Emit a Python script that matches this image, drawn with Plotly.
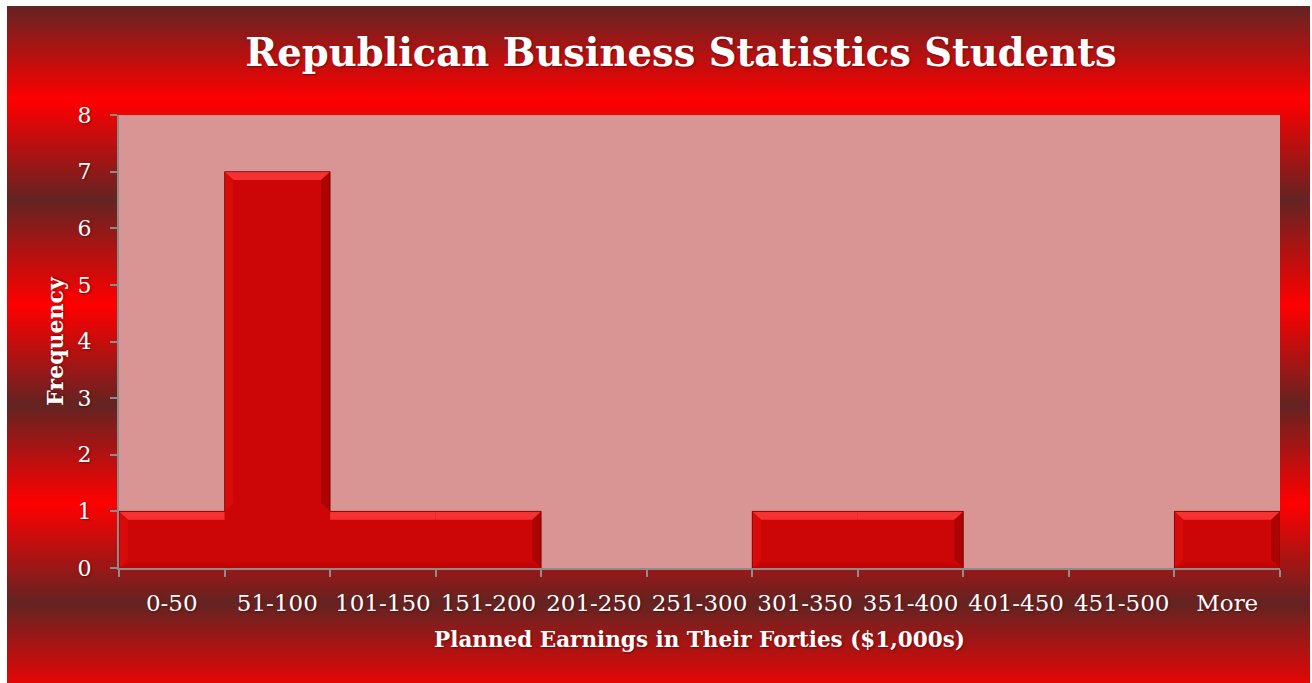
import plotly.graph_objects as go

# Histogram of planned earnings
bins = ["0-50", "51-100", "101-150", "151-200", "201-250", "251-300",
        "301-350", "351-400", "401-450", "451-500", "More"]
frequency = [1, 7, 1, 1, 0, 0, 1, 1, 0, 0, 1]
y_ticks = [0, 1, 2, 3, 4, 5, 6, 7, 8]

W, H = 1312, 683
L, R, T, B = 119, 32, 115, 115
PW, PH = W - L - R, H - T - B

FONT = "DejaVu Serif"
SHADOW = "1px 1px 2px rgba(60,0,0,0.55)"

DARK = (99, 36, 35)
BRIGHT = (255, 0, 0)
# vertical position (px from top) -> colour stops of the banded backdrop
band_stops = [(6, DARK), (100, BRIGHT), (200, DARK), (305, BRIGHT),
              (405, DARK), (503, BRIGHT), (603, DARK), (700, BRIGHT)]


def band_color(py):
    for (p0, c0), (p1, c1) in zip(band_stops[:-1], band_stops[1:]):
        if p0 <= py <= p1:
            t = (py - p0) / (p1 - p0)
            c = [round(a + (b - a) * t) for a, b in zip(c0, c1)]
            return f"rgb({c[0]},{c[1]},{c[2]})"
    return f"rgb{band_stops[-1][1]}"


def px_x(px):
    return (px - L) / PW


def px_y(py):
    return (T + PH - py) / PH


shapes = []
step = 3
py = 6
while py < H:
    shapes.append(dict(type="rect", xref="paper", yref="paper", layer="below",
                       x0=px_x(7), x1=px_x(1310), y0=px_y(min(py + step, H) + 0.5),
                       y1=px_y(py), fillcolor=band_color(py + step / 2),
                       line=dict(width=0)))
    py += step

# plot area fill over the backdrop
shapes.append(dict(type="rect", xref="paper", yref="paper", layer="below",
                   x0=0, x1=1, y0=0, y1=1, fillcolor="#d99594", line=dict(width=0)))

# bevel decorations: neighbouring bars read as one solid block
dx, dy = 0.085, 0.15
n = len(frequency)
for i, v in enumerate(frequency):
    if v <= 0:
        continue
    x0, x1 = i - 0.5, i + 0.5
    hl = frequency[i - 1] if i > 0 else 0
    hr = frequency[i + 1] if i < n - 1 else 0
    lx = x0 + dx if hl < v else x0
    rx = x1 - dx if hr < v else x1
    top = f"M {x0},{v} L {x1},{v} L {rx},{v - dy} L {lx},{v - dy} Z"
    shapes.append(dict(type="path", xref="x", yref="y", path=top,
                       fillcolor="rgba(255,60,60,0.8)", line=dict(width=0)))
    if hl < v:
        lb = max(hl, 0)
        left = f"M {x0},{v} L {x0},{lb} L {x0 + dx},{lb + dy} L {x0 + dx},{v - dy} Z"
        shapes.append(dict(type="path", xref="x", yref="y", path=left,
                           fillcolor="rgba(225,15,15,0.55)", line=dict(width=0)))
    if hr < v:
        rb = max(hr, 0)
        right = f"M {x1},{v} L {x1},{rb} L {x1 - dx},{rb + dy} L {x1 - dx},{v - dy} Z"
        shapes.append(dict(type="path", xref="x", yref="y", path=right,
                           fillcolor="rgba(140,0,0,0.5)", line=dict(width=0)))
    bl = x0 + dx if hl == 0 else x0
    br = x1 - dx if hr == 0 else x1
    bottom = f"M {x0},0 L {x1},0 L {br},{dy * 0.6} L {bl},{dy * 0.6} Z"
    shapes.append(dict(type="path", xref="x", yref="y", path=bottom,
                       fillcolor="rgba(170,0,0,0.35)", line=dict(width=0)))

# thin dark outline around each run of adjacent non-empty bars
i = 0
while i < n:
    if frequency[i] <= 0:
        i += 1
        continue
    j = i
    while j + 1 < n and frequency[j + 1] > 0:
        j += 1
    pts = [(i - 0.5, 0)]
    for k in range(i, j + 1):
        pts.append((k - 0.5, frequency[k]))
        pts.append((k + 0.5, frequency[k]))
    pts.append((j + 0.5, 0))
    path = "M " + " L ".join(f"{x},{y}" for x, y in pts)
    shapes.append(dict(type="path", xref="x", yref="y", path=path,
                       line=dict(color="rgba(120,0,0,0.8)", width=1)))
    i = j + 1

fig = go.Figure(go.Bar(
    x=bins, y=frequency, width=1.0,
    marker=dict(color="#cc0606", line=dict(width=0)),
    hoverinfo="x+y",
))

fig.update_layout(
    width=W, height=H,
    margin=dict(l=L, r=R, t=T, b=B, autoexpand=False),
    paper_bgcolor="white",
    plot_bgcolor="rgba(0,0,0,0)",
    shapes=shapes,
    bargap=0,
    showlegend=False,
    title=dict(text="<b>Republican Business Statistics Students</b>",
               x=681 / W, xref="container", xanchor="center",
               y=1 - 53 / H, yref="container", yanchor="middle",
               font=dict(family=FONT, size=38.5, color="white", shadow=SHADOW)),
    xaxis=dict(
        type="category", range=[-0.5, len(bins) - 0.5],
        showline=True, linecolor="#8c8c8c", linewidth=2,
        ticks="outside", tickson="boundaries", ticklen=7, tickcolor="#8c8c8c", tickwidth=2,
        showgrid=False, zeroline=False, tickangle=0,
        ticklabelstandoff=13,
        tickfont=dict(family=FONT, size=23, color="white", shadow=SHADOW),
        title=dict(text="<b>Planned Earnings in Their Forties ($1,000s)</b>", standoff=17,
                   font=dict(family=FONT, size=21.5, color="white", shadow=SHADOW)),
    ),
    yaxis=dict(
        range=[0, 8], tickvals=y_ticks,
        showline=True, linecolor="#8c8c8c", linewidth=2,
        ticks="outside", ticklen=7, tickcolor="#8c8c8c", tickwidth=2,
        showgrid=False, zeroline=False,
        ticklabelstandoff=14,
        tickfont=dict(family=FONT, size=22, color="white", shadow=SHADOW),
        title=dict(text="<b>Frequency</b>", standoff=8,
                   font=dict(family=FONT, size=22, color="white", shadow=SHADOW)),
    ),
)

fig.write_html("out.html")
